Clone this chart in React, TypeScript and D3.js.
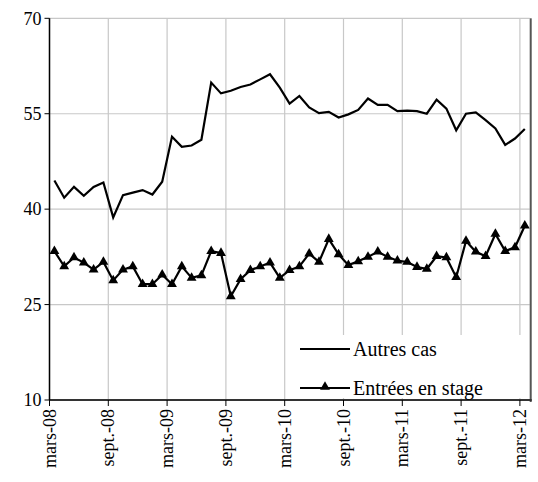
import React from "react";
import * as d3 from "d3";

const autresCas = [44.5,41.8,43.5,42.1,43.5,44.2,38.7,42.2,42.6,43.0,42.3,44.3,51.4,49.8,50.0,50.9,59.9,58.2,58.6,59.2,59.6,60.4,61.2,59.1,56.6,57.8,56.0,55.1,55.3,54.4,54.9,55.6,57.4,56.4,56.4,55.4,55.5,55.4,55.0,57.2,55.8,52.4,55.0,55.2,54.0,52.7,50.1,51.1,52.6];
const entrees = [33.4,31.0,32.4,31.6,30.5,31.7,28.8,30.5,31.0,28.2,28.2,29.7,28.2,31.0,29.2,29.6,33.4,33.1,26.3,29.0,30.4,31.0,31.6,29.2,30.4,31.0,33.0,31.7,35.3,32.9,31.2,31.8,32.5,33.3,32.5,31.9,31.7,30.9,30.6,32.6,32.4,29.3,35.0,33.3,32.6,36.1,33.4,34.0,37.4];
const xLabels = ["mars-08","sept.-08","mars-09","sept.-09","mars-10","sept.-10","mars-11","sept.-11","mars-12"];
const yTicks = [10,25,40,55,70];
const seriesNames = ["Autres cas","Entrées en stage"];

export default function App() {
  const W = 538, H = 482;
  const L = 49.5, R = 529.7, T = 18.3, B = 400;
  const n = autresCas.length;
  const x = d3.scaleLinear().domain([0, n]).range([L, R]);
  const y = d3.scaleLinear().domain([10, 70]).range([B, T]);
  const line = d3.line<number>().x((_, i) => x(i + 0.5)).y(d => y(d));
  const font = "'Times New Roman', 'Liberation Serif', 'DejaVu Serif', serif";
  const tri = d3.symbol(d3.symbolTriangle, 42)()!;
  const ts = { fontFamily: font, fontSize: 18 } as React.CSSProperties;
  const ls = { fontFamily: font, fontSize: 20 } as React.CSSProperties;
  return (
    <svg width={W} height={H} style={{ position: "absolute", left: 0, top: 0 }}>
      <rect width={W} height={H} fill="#fff" />
      {yTicks.map(t => (
        <line key={"gy" + t} x1={L} x2={R} y1={y(t)} y2={y(t)} stroke="#c8c8c8" strokeWidth={1.2} />
      ))}
      {xLabels.map((_, k) => (
        <line key={"gx" + k} x1={x(k * 6)} x2={x(k * 6)} y1={T} y2={B} stroke="#c8c8c8" strokeWidth={1.2} />
      ))}
      <rect x={292} y={335} width={R - 294} height={63} fill="#fff" />
      <path d={line(autresCas)!} fill="none" stroke="#000" strokeWidth={2.2} />
      <path d={line(entrees)!} fill="none" stroke="#000" strokeWidth={2.2} />
      {entrees.map((d, i) => (
        <path key={i} d={tri} transform={`translate(${x(i + 0.5)},${y(d)})`} fill="#000" />
      ))}
      <rect x={R} y={T} width={2} height={B - T + 2} fill="#555" />
      <line x1={L} x2={R + 2} y1={B} y2={B} stroke="#333" strokeWidth={2} />
      <line x1={L} x2={L} y1={T} y2={B} stroke="#000" strokeWidth={1.5} />
      {yTicks.map(t => (
        <g key={"yt" + t}>
          <line x1={L - 5} x2={L} y1={y(t)} y2={y(t)} stroke="#000" />
          <text x={L - 8} y={y(t)} dy="0.35em" textAnchor="end" style={ts}>{t}</text>
        </g>
      ))}
      {xLabels.map((lab, k) => (
        <g key={"xt" + k}>
          <line x1={x(k * 6)} x2={x(k * 6)} y1={B} y2={B + 6} stroke="#000" />
          <text transform={`translate(${x(k * 6) + 6},${B + 9}) rotate(-90)`} textAnchor="end" style={ts}>{lab}</text>
        </g>
      ))}
      <line x1={300} x2={350} y1={349} y2={349} stroke="#000" strokeWidth={2} />
      <text x={353} y={349} dy="0.35em" style={ls}>{seriesNames[0]}</text>
      <line x1={300} x2={350} y1={388} y2={388} stroke="#000" strokeWidth={2} />
      <path d={tri} transform="translate(325,387)" fill="#000" />
      <text x={353} y={388} dy="0.35em" style={ls}>{seriesNames[1]}</text>
    </svg>
  );
}
